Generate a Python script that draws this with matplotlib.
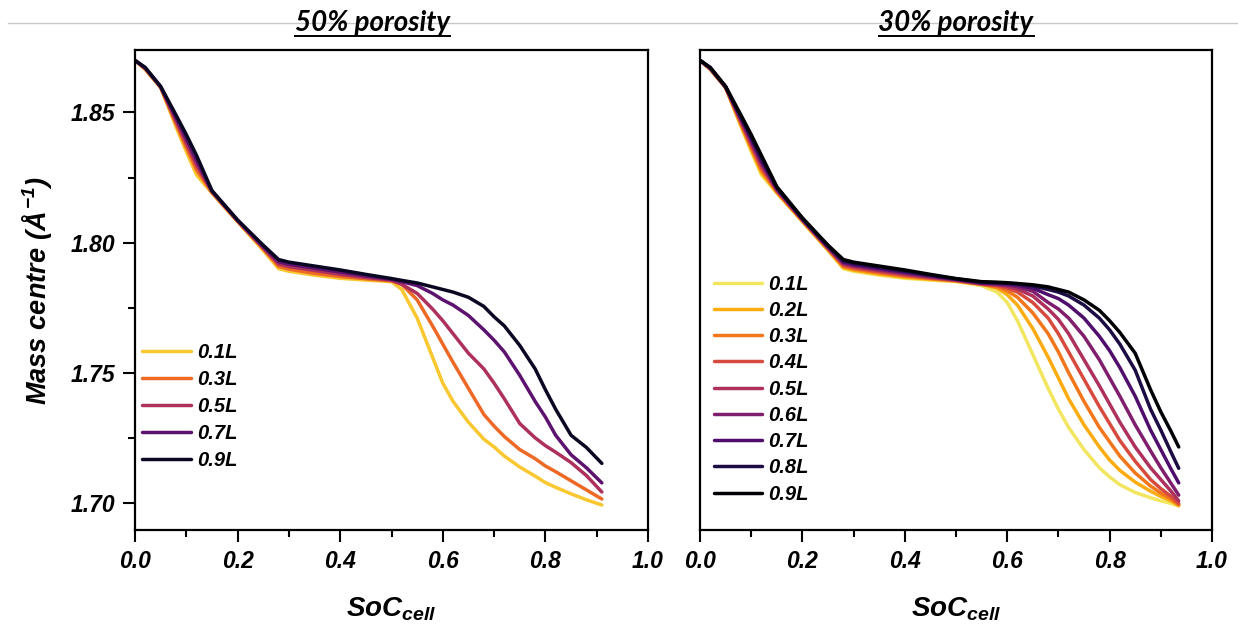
import numpy as np
import matplotlib
matplotlib.use('Agg')
import matplotlib.pyplot as plt
from matplotlib.lines import Line2D
from matplotlib.ticker import MultipleLocator, FormatStrFormatter

plt.rcParams['font.family'] = ['Liberation Sans', 'DejaVu Sans']
plt.rcParams['font.weight'] = 'bold'
plt.rcParams['font.style'] = 'italic'
plt.rcParams['mathtext.fontset'] = 'custom'
plt.rcParams['mathtext.it'] = 'Liberation Sans:italic:bold'
plt.rcParams['mathtext.rm'] = 'Liberation Sans:italic:bold'
plt.rcParams['mathtext.bf'] = 'Liberation Sans:italic:bold'
plt.rcParams['mathtext.default'] = 'it'

# ---- data: 50% porosity ----
soc_50 = [0, 0.02, 0.05, 0.08, 0.10, 0.12, 0.15, 0.20, 0.25, 0.28, 0.30, 0.35, 0.40, 0.45, 0.50,
          0.52, 0.55, 0.58, 0.60, 0.62, 0.65, 0.68, 0.70, 0.72, 0.75, 0.78, 0.80, 0.82, 0.85, 0.88, 0.91]
labels_50 = ['0.1L', '0.3L', '0.5L', '0.7L', '0.9L']
mc_50_01 = [1.870, 1.8665, 1.8595, 1.8445, 1.8350, 1.8260, 1.8190, 1.8080, 1.7970, 1.7900, 1.7890, 1.7875, 1.7863, 1.7856, 1.7850,
            1.7820, 1.7710, 1.7560, 1.7460, 1.7390, 1.7310, 1.7245, 1.7215, 1.7180, 1.7138, 1.7103, 1.7078, 1.7060, 1.7035, 1.7012, 1.6992]
mc_50_03 = [1.870, 1.8667, 1.8597, 1.8456, 1.8366, 1.8279, 1.8193, 1.8082, 1.7976, 1.7909, 1.7898, 1.7882, 1.7870, 1.7861, 1.7853,
            1.7840, 1.7780, 1.7680, 1.7610, 1.7540, 1.7440, 1.7340, 1.7295, 1.7255, 1.7205, 1.7170, 1.7142, 1.7120, 1.7085, 1.7050, 1.7015]
mc_50_05 = [1.870, 1.8669, 1.8598, 1.8468, 1.8383, 1.8298, 1.8196, 1.8084, 1.7980, 1.7918, 1.7908, 1.7893, 1.7878, 1.7866, 1.7856,
            1.7840, 1.7805, 1.7745, 1.7700, 1.7650, 1.7575, 1.7515, 1.7460, 1.7400, 1.7305, 1.7250, 1.7220, 1.7195, 1.7155, 1.7105, 1.7042]
mc_50_07 = [1.870, 1.8671, 1.8599, 1.8479, 1.8399, 1.8316, 1.8198, 1.8085, 1.7985, 1.7927, 1.7917, 1.7902, 1.7887, 1.7872, 1.7859,
            1.7850, 1.7835, 1.7805, 1.7780, 1.7760, 1.7720, 1.7665, 1.7625, 1.7580, 1.7490, 1.7390, 1.7330, 1.7260, 1.7185, 1.7135, 1.7077]
mc_50_09 = [1.870, 1.8673, 1.8600, 1.8490, 1.8415, 1.8335, 1.8200, 1.8087, 1.7990, 1.7935, 1.7925, 1.7910, 1.7895, 1.7878, 1.7862,
            1.7855, 1.7845, 1.7830, 1.7820, 1.7810, 1.7790, 1.7755, 1.7715, 1.7680, 1.7605, 1.7515, 1.7435, 1.7360, 1.7260, 1.7213, 1.7152]
series_50 = [mc_50_01, mc_50_03, mc_50_05, mc_50_07, mc_50_09]

# ---- data: 30% porosity ----
soc_30 = [0, 0.02, 0.05, 0.08, 0.10, 0.12, 0.15, 0.20, 0.25, 0.28, 0.30, 0.35, 0.40, 0.45, 0.50,
          0.55, 0.58, 0.60, 0.62, 0.65, 0.68, 0.70, 0.72, 0.75, 0.78, 0.80, 0.82, 0.85, 0.88, 0.90, 0.92, 0.935]
labels_30 = ['0.1L', '0.2L', '0.3L', '0.4L', '0.5L', '0.6L', '0.7L', '0.8L', '0.9L']
mc_30_01 = [1.870, 1.8665, 1.8595, 1.8445, 1.8350, 1.8260, 1.8190, 1.8080, 1.7970, 1.7900, 1.7890, 1.7875, 1.7863, 1.7856, 1.7850,
            1.7835, 1.7810, 1.7770, 1.7700, 1.7570, 1.7440, 1.7360, 1.7290, 1.7205, 1.7135, 1.7100, 1.7070, 1.7040, 1.7020, 1.7008, 1.6998, 1.6988]
mc_30_02 = [1.870, 1.8666, 1.8596, 1.8451, 1.8358, 1.8269, 1.8193, 1.8082, 1.7972, 1.7904, 1.7894, 1.7879, 1.7867, 1.7859, 1.7852,
            1.7840, 1.7825, 1.7800, 1.7760, 1.7670, 1.7560, 1.7480, 1.7400, 1.7300, 1.7215, 1.7165, 1.7125, 1.7080, 1.7045, 1.7025, 1.7008, 1.6990]
mc_30_03 = [1.870, 1.8667, 1.8596, 1.8456, 1.8366, 1.8279, 1.8196, 1.8084, 1.7975, 1.7909, 1.7899, 1.7884, 1.7871, 1.7862, 1.7853,
            1.7840, 1.7830, 1.7815, 1.7790, 1.7730, 1.7650, 1.7580, 1.7500, 1.7390, 1.7290, 1.7235, 1.7180, 1.7115, 1.7065, 1.7038, 1.7015, 1.6993]
mc_30_04 = [1.870, 1.8668, 1.8597, 1.8462, 1.8374, 1.8288, 1.8199, 1.8086, 1.7978, 1.7913, 1.7903, 1.7888, 1.7875, 1.7864, 1.7855,
            1.7840, 1.7835, 1.7825, 1.7810, 1.7770, 1.7710, 1.7650, 1.7580, 1.7475, 1.7370, 1.7305, 1.7240, 1.7160, 1.7090, 1.7055, 1.7025, 1.6998]
mc_30_05 = [1.870, 1.8669, 1.8598, 1.8468, 1.8383, 1.8298, 1.8203, 1.8088, 1.7980, 1.7918, 1.7908, 1.7893, 1.7879, 1.7867, 1.7856,
            1.7842, 1.7838, 1.7832, 1.7822, 1.7795, 1.7745, 1.7705, 1.7650, 1.7550, 1.7450, 1.7380, 1.7310, 1.7215, 1.7135, 1.7090, 1.7045, 1.7008]
mc_30_06 = [1.870, 1.8670, 1.8598, 1.8473, 1.8391, 1.8307, 1.8206, 1.8089, 1.7982, 1.7922, 1.7912, 1.7897, 1.7883, 1.7870, 1.7858,
            1.7844, 1.7841, 1.7837, 1.7831, 1.7813, 1.7770, 1.7745, 1.7710, 1.7640, 1.7550, 1.7480, 1.7410, 1.7300, 1.7200, 1.7135, 1.7075, 1.7030]
mc_30_07 = [1.870, 1.8671, 1.8599, 1.8479, 1.8399, 1.8316, 1.8209, 1.8091, 1.7985, 1.7926, 1.7916, 1.7901, 1.7887, 1.7873, 1.7859,
            1.7846, 1.7843, 1.7841, 1.7837, 1.7825, 1.7800, 1.7785, 1.7760, 1.7710, 1.7640, 1.7585, 1.7520, 1.7410, 1.7280, 1.7205, 1.7130, 1.7077]
mc_30_08 = [1.870, 1.8672, 1.8599, 1.8484, 1.8407, 1.8326, 1.8212, 1.8093, 1.7988, 1.7931, 1.7921, 1.7906, 1.7891, 1.7875, 1.7861,
            1.7848, 1.7846, 1.7844, 1.7841, 1.7834, 1.7820, 1.7810, 1.7795, 1.7760, 1.7710, 1.7665, 1.7610, 1.7510, 1.7360, 1.7280, 1.7195, 1.7133]
mc_30_09 = [1.870, 1.8673, 1.8600, 1.8490, 1.8415, 1.8335, 1.8215, 1.8095, 1.7990, 1.7935, 1.7925, 1.7910, 1.7895, 1.7878, 1.7862,
            1.7850, 1.7848, 1.7846, 1.7843, 1.7838, 1.7830, 1.7820, 1.7810, 1.7780, 1.7740, 1.7700, 1.7655, 1.7575, 1.7435, 1.7350, 1.7275, 1.7215]
series_30 = [mc_30_01, mc_30_02, mc_30_03, mc_30_04, mc_30_05, mc_30_06, mc_30_07, mc_30_08, mc_30_09]

cols_50 = plt.cm.inferno(np.linspace(0.87, 0.06, 5))
cols_30 = plt.cm.inferno(np.linspace(0.93, 0.0, 9))

W, H = 1238, 633
fig = plt.figure(figsize=(W / 100, H / 100), dpi=100)
ax1 = fig.add_axes([135 / W, 1 - 530 / H, 513 / W, 480 / H])
ax2 = fig.add_axes([700 / W, 1 - 530 / H, 512 / W, 480 / H])

for s, c, lab in zip(series_50, cols_50, labels_50):
    ax1.plot(soc_50, s, color=c, lw=2.5, label=lab, solid_capstyle='round')
for s, c, lab in zip(series_30, cols_30, labels_30):
    ax2.plot(soc_30, s, color=c, lw=2.5, label=lab, solid_capstyle='round')

for ax in (ax1, ax2):
    ax.set_xlim(0, 1.0)
    ax.set_ylim(1.6896, 1.874)
    ax.xaxis.set_major_locator(MultipleLocator(0.2))
    ax.xaxis.set_minor_locator(MultipleLocator(0.1))
    ax.xaxis.set_major_formatter(FormatStrFormatter('%.1f'))
    ax.yaxis.set_major_locator(MultipleLocator(0.05))
    ax.yaxis.set_minor_locator(MultipleLocator(0.025))
    ax.yaxis.set_major_formatter(FormatStrFormatter('%.2f'))
    ax.tick_params(which='both', direction='out', width=1.5, labelsize=16.5, pad=6)
    ax.tick_params(which='major', length=8.5)
    ax.tick_params(which='minor', length=5)
    for sp in ax.spines.values():
        sp.set_linewidth(1.6)
    ax.set_xlabel(r'$SoC_{cell}$', fontsize=20, labelpad=16)

ax2.tick_params(axis='y', which='both', left=False, labelleft=False)
ax1.set_ylabel(r'$Mass\ centre\ (Å^{-1})$', fontsize=19.5, labelpad=12)

ax1.legend(loc='upper left', bbox_to_anchor=(0.014, 0.389), frameon=False, fontsize=14.5,
           handlelength=2.4, handletextpad=0.35, labelspacing=0.39, borderaxespad=0, borderpad=0)
ax2.legend(loc='upper left', bbox_to_anchor=(0.027, 0.532), frameon=False, fontsize=14.5,
           handlelength=2.4, handletextpad=0.3, labelspacing=0.36, borderaxespad=0, borderpad=0)

# gray rule across the top and underlined titles
fig.add_artist(Line2D([8 / W, 1.0], [1 - 23 / H] * 2, color='#c8c8c8', lw=1.0))
ty = 1 - 31 / H
t1 = fig.text(373 / W, ty, '50% porosity', ha='center', va='baseline', fontsize=20,
              family='Lato', weight='bold', style='italic')
t2 = fig.text(956 / W, ty, '30% porosity', ha='center', va='baseline', fontsize=20,
              family='Lato', weight='bold', style='italic')
fig.canvas.draw()
r = fig.canvas.get_renderer()
for t in (t1, t2):
    bb = t.get_window_extent(renderer=r)
    x0, x1 = bb.x0 / W, bb.x1 / W
    fig.add_artist(Line2D([x0, x1], [ty - 4.5 / H] * 2, color='black', lw=1.4))

fig.savefig('out.png', dpi=100)
